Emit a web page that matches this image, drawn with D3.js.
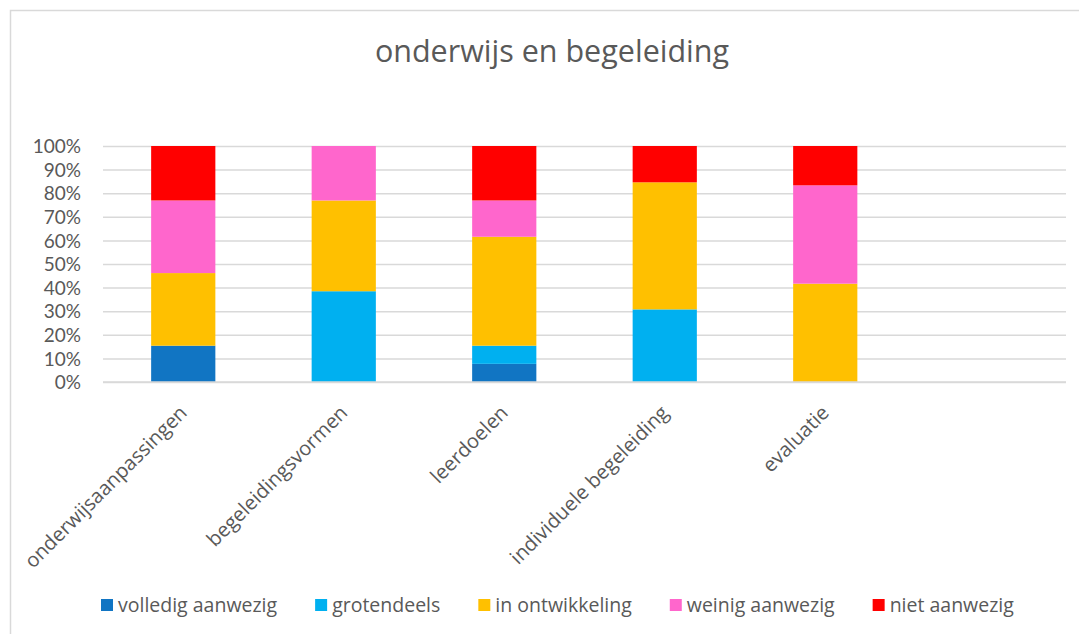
<!DOCTYPE html>
<html>
<head>
<meta charset="utf-8">
<script src="https://cdn.jsdelivr.net/npm/d3@7"></script>
<style>
  html, body { margin: 0; padding: 0; background: #fff; }
  svg { display: block; }
  text { font-family: "Open Sans", sans-serif; fill: #595959; }
</style>
</head>
<body>
<svg id="chart" width="1079" height="634"></svg>
<script>
// ---- data ----
const title = "onderwijs en begeleiding";
const categories = ["onderwijsaanpassingen", "begeleidingsvormen", "leerdoelen", "individuele begeleiding", "evaluatie", ""];
const seriesNames = ["volledig aanwezig", "grotendeels", "in ontwikkeling", "weinig aanwezig", "niet aanwezig"];
const seriesColors = ["#1175c3", "#00b0f0", "#ffc000", "#ff66cc", "#ff0000"];
// counts per category (share of respondents), stacked to 100%
const volledig     = [2, 0, 1, 0, 0, 0];
const grotendeels  = [0, 5, 1, 4, 0, 0];
const ontwikkeling = [4, 5, 6, 7, 5, 0];
const weinig       = [4, 3, 2, 0, 5, 0];
const niet         = [3, 0, 3, 2, 2, 0];
const yTicks = [0, 0.1, 0.2, 0.3, 0.4, 0.5, 0.6, 0.7, 0.8, 0.9, 1.0];

// ---- build table ----
const seriesValues = [volledig, grotendeels, ontwikkeling, weinig, niet];
const table = categories.map((c, i) => {
  const row = { cat: c };
  seriesNames.forEach((s, j) => row[s] = seriesValues[j][i]);
  return row;
});
const stacked = d3.stack().keys(seriesNames).offset(d3.stackOffsetExpand)(table);

// ---- layout ----
const svg = d3.select("#chart");
const W = 1079, H = 634;
const plot = { left: 103, right: 1066, top: 146, bottom: 382 };

// chart area border
svg.append("rect")
  .attr("x", 10.5).attr("y", 10.5)
  .attr("width", W + 20).attr("height", H + 20)
  .attr("fill", "none").attr("stroke", "#d9d9d9").attr("stroke-width", 1.5);

svg.append("text")
  .attr("x", 552).attr("y", 62)
  .attr("text-anchor", "middle")
  .style("font-size", "30.5px")
  .text(title);

const x = d3.scaleBand().domain(categories.map((c, i) => i)).range([plot.left, plot.right]).paddingInner(0.6).paddingOuter(0.3);
const y = d3.scaleLinear().domain([0, 1]).range([plot.bottom, plot.top]);

// gridlines
const yAxis = d3.axisLeft(y).tickValues(yTicks).tickFormat(d3.format(".0%")).tickSize(-(plot.right - plot.left)).tickPadding(22);
const gy = svg.append("g").attr("transform", `translate(${plot.left},0)`).call(yAxis);
gy.select(".domain").remove();
gy.selectAll(".tick line").attr("stroke", "#d9d9d9").attr("stroke-width", 1.5);
gy.selectAll(".tick text").style("font-family", "Lato, sans-serif").style("font-size", "19px").attr("fill", "#595959").attr("dy", "0.35em");

// bars
const layers = svg.append("g").selectAll("g").data(stacked).join("g")
  .attr("fill", (d, i) => seriesColors[i]);
layers.selectAll("rect").data(d => d.map((v, i) => ({ v, i }))).join("rect")
  .filter(d => !isNaN(d.v[1]) && d.v[1] - d.v[0] > 0)
  .attr("x", d => x(d.i))
  .attr("width", x.bandwidth())
  .attr("y", d => y(d.v[1]))
  .attr("height", d => y(d.v[0]) - y(d.v[1]));

// x axis
const xAxis = d3.axisBottom(x).tickFormat(i => categories[i]).tickSize(0);
const gx = svg.append("g").attr("transform", `translate(0,${plot.bottom})`).call(xAxis);
gx.select(".domain").attr("stroke", "#d9d9d9").attr("stroke-width", 1.5)
  .attr("d", `M${plot.left},0H${plot.right}`);
gx.selectAll(".tick text")
  .style("font-size", "20px")
  .attr("fill", "#595959")
  .attr("text-anchor", "end")
  .attr("dy", null)
  .attr("y", 0)
  .attr("transform", "translate(5,32) rotate(-45)");

// legend
const legend = svg.append("g").attr("transform", "translate(0,605)");
let lx = 101;
seriesNames.forEach((s, i) => {
  const g = legend.append("g").attr("transform", `translate(${lx},0)`);
  g.append("rect").attr("x", 0).attr("y", -6).attr("width", 12).attr("height", 12).attr("fill", seriesColors[i]);
  const t = g.append("text").attr("x", 17).attr("y", 0).attr("dy", "0.35em").style("font-size", "19.5px").text(s);
  lx += 17 + t.node().getComputedTextLength() + 38;
});
</script>
</body>
</html>
